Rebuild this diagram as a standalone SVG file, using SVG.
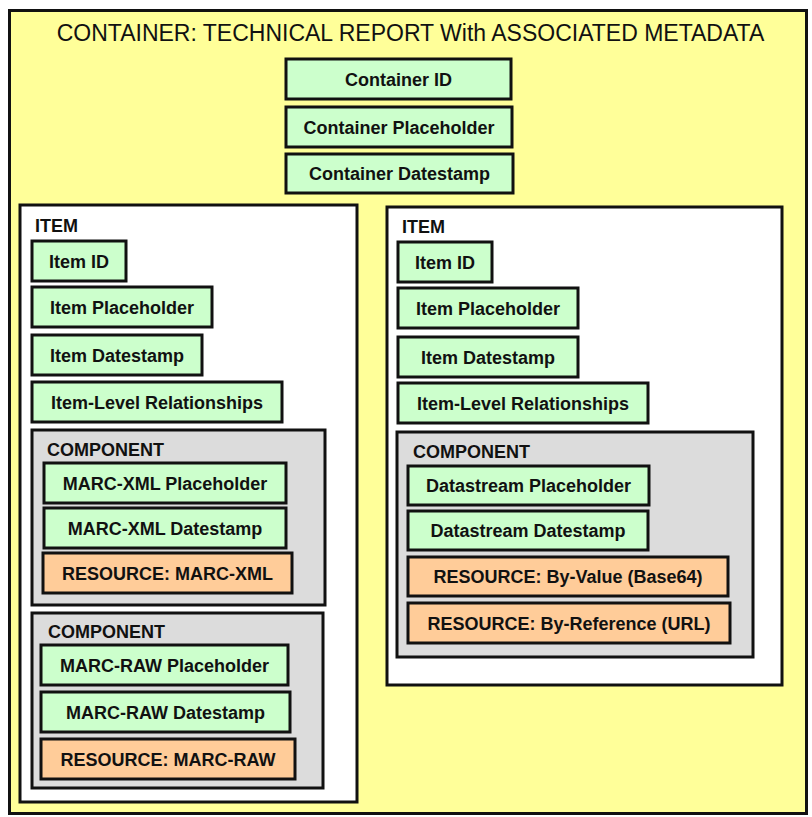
<svg xmlns="http://www.w3.org/2000/svg" width="812" height="817" viewBox="0 0 812 817">
<style>
text{font-family:"Liberation Sans",Arial,sans-serif;fill:#111;}
.t{font-size:23px;text-anchor:middle;}
.lbl{font-size:18px;font-weight:bold;}
.f{font-size:18px;font-weight:bold;text-anchor:middle;}
.g rect{fill:#CCFFCC;stroke:#111;stroke-width:3;}
.r rect{fill:#FFCC99;stroke:#111;stroke-width:3;}
.item>rect{fill:#FFFFFF;stroke:#111;stroke-width:3;}
.comp>rect{fill:#DCDCDC;stroke:#111;stroke-width:3;}
</style>
<rect x="0" y="0" width="812" height="817" fill="#FFFFFF"/>
<g id="container">
<rect x="9.5" y="10.5" width="797" height="803" fill="#FFFF99" stroke="#111" stroke-width="3"/>
<text class="t" x="410.5" y="41">CONTAINER: TECHNICAL REPORT With ASSOCIATED METADATA</text>
<g id="container-id" class="g"><rect x="286" y="59" width="225" height="40"/><text class="f" x="398.5" y="85.5">Container ID</text></g>
<g id="container-placeholder" class="g"><rect x="286" y="107" width="226" height="40"/><text class="f" x="399" y="133.5">Container Placeholder</text></g>
<g id="container-datestamp" class="g"><rect x="286" y="154" width="227" height="39"/><text class="f" x="399.5" y="180">Container Datestamp</text></g>
</g>
<g id="item-left" class="item">
<rect x="20" y="205" width="337" height="597"/>
<text class="lbl" x="35" y="232">ITEM</text>
<g id="l-item-id" class="g"><rect x="32" y="241" width="94" height="40"/><text class="f" x="79" y="267.5">Item ID</text></g>
<g id="l-item-placeholder" class="g"><rect x="32" y="287" width="180" height="40"/><text class="f" x="122" y="313.5">Item Placeholder</text></g>
<g id="l-item-datestamp" class="g"><rect x="32" y="335" width="170" height="40"/><text class="f" x="117" y="361.5">Item Datestamp</text></g>
<g id="l-item-rel" class="g"><rect x="32" y="382" width="250" height="40"/><text class="f" x="157" y="408.5">Item-Level Relationships</text></g>
<g id="comp-marcxml" class="comp">
<rect x="32" y="430" width="293" height="175"/>
<text class="lbl" x="47" y="456">COMPONENT</text>
<g id="marcxml-placeholder" class="g"><rect x="44" y="463" width="242" height="40"/><text class="f" x="165" y="489.5">MARC-XML Placeholder</text></g>
<g id="marcxml-datestamp" class="g"><rect x="44" y="508" width="242" height="40"/><text class="f" x="165" y="534.5">MARC-XML Datestamp</text></g>
<g id="res-marcxml" class="r"><rect x="43" y="553" width="249" height="40"/><text class="f" x="167.5" y="579.5">RESOURCE: MARC-XML</text></g>
</g>
<g id="comp-marcraw" class="comp">
<rect x="32" y="613" width="291" height="175"/>
<text class="lbl" x="48" y="638">COMPONENT</text>
<g id="marcraw-placeholder" class="g"><rect x="41" y="645" width="247" height="40"/><text class="f" x="164.5" y="671.5">MARC-RAW Placeholder</text></g>
<g id="marcraw-datestamp" class="g"><rect x="41" y="692" width="249" height="40"/><text class="f" x="165.5" y="718.5">MARC-RAW Datestamp</text></g>
<g id="res-marcraw" class="r"><rect x="41" y="739" width="254" height="40"/><text class="f" x="168" y="765.5">RESOURCE: MARC-RAW</text></g>
</g>
</g>
<g id="item-right" class="item">
<rect x="387" y="207" width="395" height="478"/>
<text class="lbl" x="402" y="233">ITEM</text>
<g id="r-item-id" class="g"><rect x="398" y="242" width="94" height="40"/><text class="f" x="445" y="268.5">Item ID</text></g>
<g id="r-item-placeholder" class="g"><rect x="398" y="288" width="180" height="40"/><text class="f" x="488" y="314.5">Item Placeholder</text></g>
<g id="r-item-datestamp" class="g"><rect x="398" y="337" width="180" height="40"/><text class="f" x="488" y="363.5">Item Datestamp</text></g>
<g id="r-item-rel" class="g"><rect x="398" y="383" width="250" height="40"/><text class="f" x="523" y="409.5">Item-Level Relationships</text></g>
<g id="comp-datastream" class="comp">
<rect x="397" y="432" width="356" height="225"/>
<text class="lbl" x="413" y="458">COMPONENT</text>
<g id="ds-placeholder" class="g"><rect x="408" y="466" width="241" height="39"/><text class="f" x="528.5" y="492">Datastream Placeholder</text></g>
<g id="ds-datestamp" class="g"><rect x="408" y="511" width="240" height="39"/><text class="f" x="528" y="537">Datastream Datestamp</text></g>
<g id="res-byvalue" class="r"><rect x="408" y="557" width="320" height="39"/><text class="f" x="568" y="583">RESOURCE: By-Value (Base64)</text></g>
<g id="res-byref" class="r"><rect x="408" y="603" width="322" height="40"/><text class="f" x="569" y="629.5">RESOURCE: By-Reference (URL)</text></g>
</g>
</g>
<g id="connectors"/>
</svg>
